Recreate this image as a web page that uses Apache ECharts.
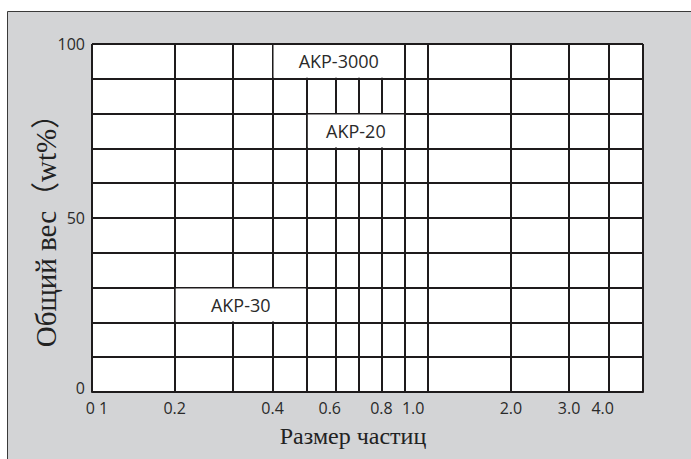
<!DOCTYPE html>
<html>
<head>
<meta charset="utf-8">
<script src="https://cdn.jsdelivr.net/npm/echarts@6/dist/echarts.min.js"></script>
<style>html,body{margin:0;padding:0;background:#fff;}#c{width:691px;height:459px;}</style>
</head>
<body>
<div id="c"></div>
<script>
// Printed axis: uneven, log-like spacing within each decade
const decadeMarks = [1, 2, 3, 4, 5, 6, 7, 8, 9, 10];
const decadeScale = [0, 0.246, 0.419, 0.537, 0.639, 0.725, 0.794, 0.861, 0.931, 1];

const gridSizes = [0.1, 0.2, 0.3, 0.4, 0.5, 0.6, 0.7, 0.8, 0.9, 1.0, 2.0, 3.0, 4.0, 5.0];
const labelSizes = [0.1, 0.2, 0.4, 0.6, 0.8, 1.0, 2.0, 3.0, 4.0];
const labelTexts = ['0 1', '0.2', '0.4', '0.6', '0.8', '1.0', '2.0', '3.0', '4.0'];
const yTicks = [0, 50, 100];

const gradeNames = ['AKP-3000', 'AKP-20', 'AKP-30'];
const gradeSizeFrom = [0.4, 0.5, 0.2];
const gradeSizeTo = [0.9, 0.9, 0.5];
const gradeWtFrom = [90, 70, 20];
const gradeWtTo = [100, 80, 30];

function warp(v) {
  const d = Math.floor(Math.log10(v) + 1e-9);
  const m = v / Math.pow(10, d);
  let i = 0;
  while (i < decadeMarks.length - 2 && m > decadeMarks[i + 1] + 1e-9) i++;
  const t = (m - decadeMarks[i]) / (decadeMarks[i + 1] - decadeMarks[i]);
  return d + decadeScale[i] + t * (decadeScale[i + 1] - decadeScale[i]);
}

const gridVals = gridSizes.map(warp);
const labelVals = labelSizes.map(warp);
const boxData = gradeNames.map((n, i) => [warp(gradeSizeFrom[i]), warp(gradeSizeTo[i]), gradeWtFrom[i], gradeWtTo[i], n]);

// small typographic nudges of some printed tick labels
const labelStyleKey = {'0 1': 'r', '0.6': 'l', '1.0': 'll', '4.0': 'l'};

const lineColor = '#1e1b1c';
const chart = echarts.init(document.getElementById('c'), null, {renderer: 'svg'});
chart.setOption({
  animation: false,
  backgroundColor: '#ffffff',
  graphic: [{
    type: 'rect', z: -10, silent: true,
    shape: {x: 7.5, y: 11.5, width: 700, height: 460},
    style: {fill: '#d3d4d6', stroke: '#3a3a3a', lineWidth: 1}
  }],
  grid: {left: 92, right: 48, top: 44, bottom: 67, show: true, backgroundColor: '#ffffff', borderWidth: 0, z: 0},
  xAxis: {
    type: 'value',
    min: warp(gridSizes[0]),
    max: warp(gridSizes[gridSizes.length - 1]),
    axisLine: {show: true, lineStyle: {color: lineColor, width: 2}},
    axisTick: {show: false, customValues: gridVals},
    splitLine: {show: true, lineStyle: {color: lineColor, width: 2}},
    axisLabel: {
      customValues: labelVals,
      margin: 8,
      color: '#2a2a2a',
      fontFamily: 'Open Sans',
      fontSize: 16,
      formatter: function (v) {
        for (let i = 0; i < labelVals.length; i++) {
          if (Math.abs(labelVals[i] - v) < 1e-6) {
            const t = labelTexts[i];
            const k = labelStyleKey[t];
            return k ? '{' + k + '|' + t + '}' : t;
          }
        }
        return '';
      },
      rich: {
        r: {fontFamily: 'Open Sans', fontSize: 16, color: '#2a2a2a', padding: [0, 0, 0, 10]},
        l: {fontFamily: 'Open Sans', fontSize: 16, color: '#2a2a2a', padding: [0, 12, 0, 0]},
        ll: {fontFamily: 'Open Sans', fontSize: 16, color: '#2a2a2a', padding: [0, 30, 0, 0]}
      }
    },
    name: 'Размер частиц',
    nameLocation: 'middle',
    nameGap: 32,
    nameMoveOverlap: false,
    nameTextStyle: {fontFamily: 'Liberation Serif', fontSize: 24, color: '#222', padding: [0, 29, 0, 0]}
  },
  yAxis: {
    type: 'value', min: 0, max: 100, interval: 10,
    axisLine: {show: true, lineStyle: {color: lineColor, width: 2}},
    axisTick: {show: false},
    splitLine: {show: true, lineStyle: {color: lineColor, width: 2}},
    axisLabel: {
      customValues: yTicks,
      margin: 7,
      color: '#2a2a2a',
      fontFamily: 'Open Sans',
      fontSize: 16,
      formatter: function (v) { return v === 0 ? '{b|0}' : String(v); },
      rich: {b: {fontFamily: 'Open Sans', fontSize: 16, color: '#2a2a2a', padding: [0, 0, 8, 0]}}
    },
    name: 'Общий вес（wt%）',
    nameLocation: 'middle',
    nameGap: 32,
    nameMoveOverlap: false,
    nameTextStyle: {fontFamily: 'Liberation Serif, Noto Sans CJK SC', fontSize: 29, color: '#222', padding: [0, 11, 0, 0]}
  },
  series: [{
    type: 'custom',
    z: 5,
    silent: true,
    data: boxData,
    renderItem: function (params, api) {
      const p0 = api.coord([api.value(0), api.value(3)]);
      const p1 = api.coord([api.value(1), api.value(2)]);
      const inset = 1;
      const name = boxData[params.dataIndex][4];
      return {
        type: 'group',
        children: [{
          type: 'rect',
          shape: {x: p0[0] + inset, y: p0[1] + inset, width: p1[0] - p0[0] - 2 * inset, height: p1[1] - p0[1] - 2 * inset},
          style: {fill: '#ffffff'}
        }, {
          type: 'text',
          style: {
            text: name,
            x: (p0[0] + p1[0]) / 2,
            y: (p0[1] + p1[1]) / 2,
            align: 'center',
            verticalAlign: 'middle',
            fontFamily: 'Open Sans',
            fontSize: 18,
            fill: '#2a2a2a'
          }
        }]
      };
    }
  }]
});
</script>
</body>
</html>
